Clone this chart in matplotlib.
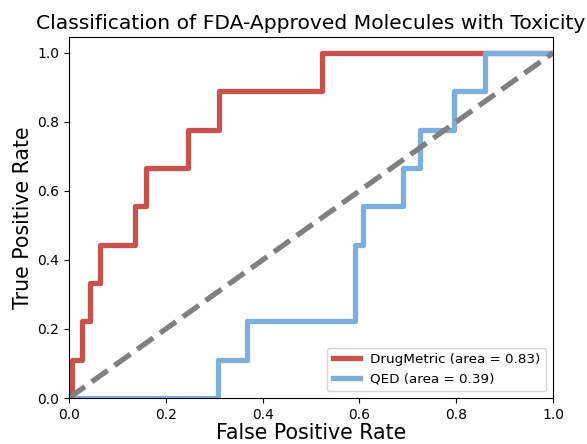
import numpy as np
import matplotlib.pyplot as plt

# ROC-Stufen
drug_fpr = [0.0, 0.0055, 0.0055, 0.026, 0.026, 0.043, 0.043, 0.064, 0.064,
            0.136, 0.136, 0.159, 0.159, 0.245, 0.245, 0.311, 0.311,
            0.522, 0.522, 1.0]
drug_tpr = [0.0, 0.0, 1/9, 1/9, 2/9, 2/9, 3/9, 3/9, 4/9,
            4/9, 5/9, 5/9, 6/9, 6/9, 7/9, 7/9, 8/9,
            8/9, 1.0, 1.0]

qed_fpr = [0.0, 0.308, 0.308, 0.367, 0.367, 0.591, 0.591, 0.607, 0.607,
           0.691, 0.691, 0.725, 0.725, 0.795, 0.795, 0.86, 0.86, 1.0]
qed_tpr = [0.0, 0.0, 1/9, 1/9, 2/9, 2/9, 4/9, 4/9, 5/9,
           5/9, 6/9, 6/9, 7/9, 7/9, 8/9, 8/9, 1.0, 1.0]

drug_auc = 0.83
qed_auc = 0.39

fig = plt.figure(figsize=(5.87, 4.44), dpi=100)
ax = fig.add_axes([0.1175, 0.1036, 0.8245, 0.813])

ax.plot(drug_fpr, drug_tpr, color="#c8524d", linewidth=3.8,
        label="DrugMetric (area = %0.2f)" % drug_auc)
ax.plot(qed_fpr, qed_tpr, color="#7eaede", linewidth=3.8,
        label="QED (area = %0.2f)" % qed_auc)
ax.plot([0, 1], [0, 1], color="gray", linewidth=3.8, linestyle="--")

ax.set_xlim(0.0, 1.0)
ax.set_ylim(0.0, 1.046)
ax.set_xlabel("False Positive Rate", fontsize=14.8, labelpad=1)
ax.set_ylabel("True Positive Rate", fontsize=14.8, labelpad=3)
ax.set_title("Classification of FDA-Approved Molecules with Toxicity", fontsize=14.6, pad=6)
ax.legend(loc="lower right", fontsize=9.7)

plt.savefig("out.png", dpi=100)
